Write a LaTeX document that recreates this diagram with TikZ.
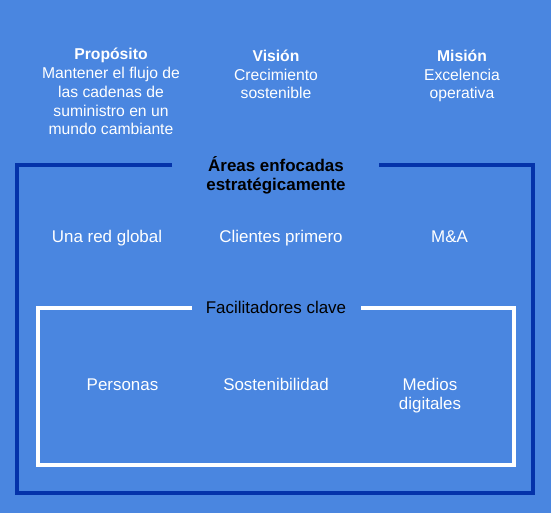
\documentclass[tikz,border=0pt]{standalone}
\usepackage{fontspec}
\setmainfont{Liberation Sans}
\usepackage{tikz}
\usetikzlibrary{
	calc,
	positioning
}
\definecolor{bgblue}{RGB}{74,134,224}
\definecolor{frameblue}{RGB}{4,51,170}
\tikzset{every path/.append style={line width=4bp}}
\tikzset{
	txt/.style={text=white,align=center,inner sep=0pt,anchor=base,font=\fontsize{17}{19}\selectfont},
	head/.style={font=\fontsize{15.75}{19}\selectfont},
	ttl/.style={text=black}
}
\newcommand{\tikzItem}[4][]{\node (#3) at #2 [txt,#1]{#4};}

\begin{document}
\begin{tikzpicture}[x=1bp,y=-1bp]
	\fill[bgblue] (0,0) rectangle (551,513);
	\useasboundingbox (0,0) rectangle (551,513);
	
	\tikzItem[head]{(111,135)}{prop}{\textbf{Propósito}\\Mantener el flujo de\\las cadenas de\\suministro en un\\mundo cambiante}
	\tikzItem[head]{(276,99)}{vis}{\textbf{Visión}\\Crecimiento\\sostenible}
	\tikzItem[head]{(462,99)}{mis}{\textbf{Misión}\\Excelencia\\operativa}
	
	\tikzItem[ttl,font=\fontsize{17}{19}\selectfont\bfseries]{(276,190.5)}{areas}{Áreas enfocadas\\estratégicamente}
	\draw[frameblue] (172,165) -| (17,493) -| (533,165) -- (379,165);
	
	\tikzItem{(107,242)}{red}{Una red global}
	\tikzItem{(281,242)}{cli}{Clientes primero}
	\tikzItem{(449.5,242)}{mya}{M\&A}
	
	\tikzItem[ttl]{(276,313)}{fac}{Facilitadores clave}
	\draw[white] (192,307.5) -| (38,465) -| (514,307.5) -- (361,307.5);
	
	\tikzItem{(122.5,390)}{per}{Personas}
	\tikzItem{(276,390)}{sos}{Sostenibilidad}
	\tikzItem{(430,409)}{med}{Medios\\digitales}
\end{tikzpicture}
\end{document}
